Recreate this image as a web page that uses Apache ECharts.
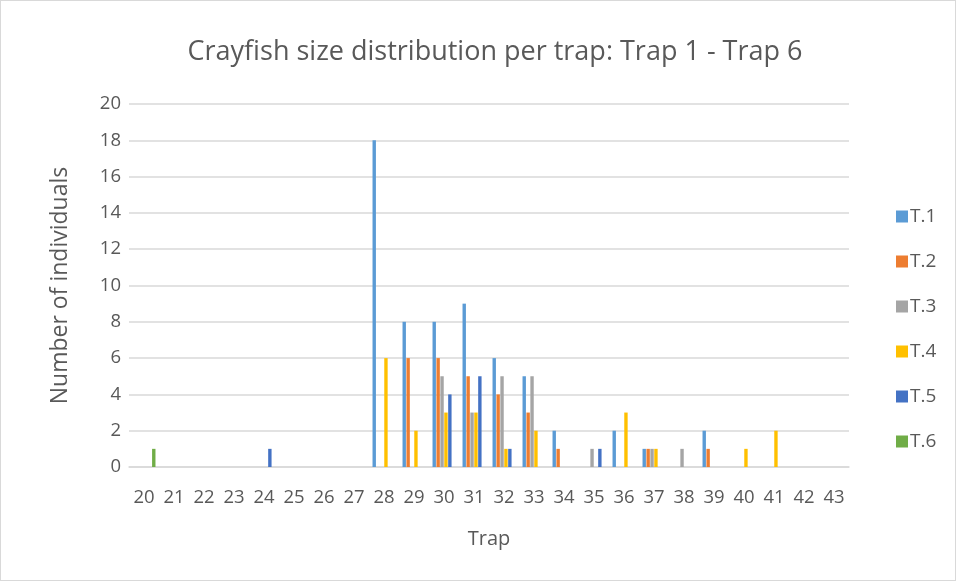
<!DOCTYPE html>
<html><head><meta charset="utf-8">
<script src="https://cdn.jsdelivr.net/npm/echarts@6/dist/echarts.min.js"></script>
<style>html,body{margin:0;padding:0;background:#fff}#c{width:954px;height:579px;border:1px solid #d9d9d9}</style>
</head><body><div id="c"></div>
<script>
const categories = ['20','21','22','23','24','25','26','27','28','29','30','31','32','33','34','35','36','37','38','39','40','41','42','43'];
const seriesNames = ['T.1','T.2','T.3','T.4','T.5','T.6'];
const t1 = [0,0,0,0,0,0,0,0,18,8,8,9,6,5,2,0,2,1,0,2,0,0,0,0];
const t2 = [0,0,0,0,0,0,0,0,0,6,6,5,4,3,1,0,0,1,0,1,0,0,0,0];
const t3 = [0,0,0,0,0,0,0,0,0,0,5,3,5,5,0,1,0,1,1,0,0,0,0,0];
const t4 = [0,0,0,0,0,0,0,0,6,2,3,3,1,2,0,0,3,1,0,0,1,2,0,0];
const t5 = [0,0,0,0,1,0,0,0,0,0,4,5,1,0,0,1,0,0,0,0,0,0,0,0];
const t6 = [1,0,0,0,0,0,0,0,0,0,0,0,0,0,0,0,0,0,0,0,0,0,0,0];
const yTicks = {min:0, max:20, interval:2};
const colors = ['#5b9bd5','#ed7d31','#a5a5a5','#ffc000','#4472c4','#70ad47'];
const data = [t1,t2,t3,t4,t5,t6];
const font = '"Open Sans", sans-serif';
const chart = echarts.init(document.getElementById('c'));
chart.setOption({
  animation:false,
  color: colors,
  title:{text:'Crayfish size distribution per trap: Trap 1 - Trap 6', left:489, top:33, textAlign:'center',
    textStyle:{fontFamily:font, fontSize:27, fontWeight:'normal', color:'#595959'}},
  legend:{orient:'vertical', left:890, top:201, itemWidth:12, itemHeight:12, itemGap:26,
    icon:'rect', textStyle:{fontFamily:font, fontSize:19, color:'#595959', padding:[0,0,0,-3]},
    data: seriesNames},
  grid:{left:128, right:106, top:103, bottom:113, containLabel:false},
  xAxis:{type:'category', data:categories, name:'Trap', nameLocation:'middle', nameGap:62,
    nameTextStyle:{fontFamily:font, fontSize:20, color:'#595959'},
    axisLine:{lineStyle:{color:'#d9d9d9', width:1.5}}, axisTick:{show:false},
    axisLabel:{fontFamily:font, fontSize:18.5, color:'#595959', margin:21, interval:0}},
  yAxis:{type:'value', min:yTicks.min, max:yTicks.max, interval:yTicks.interval,
    name:'Number of individuals', nameLocation:'middle', nameGap:57,
    nameTextStyle:{fontFamily:font, fontSize:23, color:'#595959'},
    axisLine:{show:false}, axisTick:{show:false},
    splitLine:{lineStyle:{color:'#d9d9d9', width:1.5}},
    axisLabel:{fontFamily:font, fontSize:18.5, color:'#595959', margin:8}},
  series: seriesNames.map((n,i)=>({name:n, type:'bar', data:data[i], barWidth:3.4, barGap:'15%', barCategoryGap:'23%'}))
});
</script></body></html>
